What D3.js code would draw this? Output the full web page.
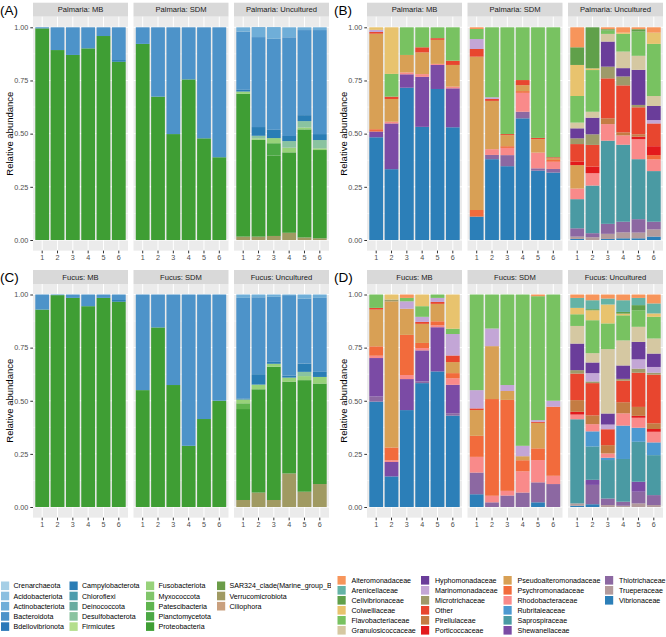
<!DOCTYPE html>
<html>
<head>
<meta charset="utf-8">
<script src="https://cdn.jsdelivr.net/npm/d3@7"></script>
<style>
  body { margin: 0; background: #fff; }
  svg { display: block; font-family: "Liberation Sans", Arial, sans-serif; }
</style>
</head>
<body>
<script>
// ---- legend / stacking order (first = top of stack) ----
const phyla = ["Crenarchaeota", "Acidobacteriota", "Actinobacteriota", "Bacteroidota", "Bdellovibrionota",
               "Campylobacterota", "Chloroflexi", "Deinococcota", "Desulfobacterota", "Firmicutes",
               "Fusobacteriota", "Myxococcota", "Patescibacteria", "Planctomycetota", "Proteobacteria",
               "SAR324_clade(Marine_group_B)", "Verrucomicrobiota", "Ciliophora"];
const phylumColors = ["#a6cfe6", "#8bbfe0", "#6faed8", "#4d93c9", "#2b78b8",
                      "#2a7db5", "#4c9cac", "#6aaca0", "#8ac3a0", "#b4de8c",
                      "#98d27a", "#80c56a", "#5fb44e", "#4ba844", "#3f9e34",
                      "#6b9c48", "#a09a62", "#c9a07e"];

const families = ["Alteromonadaceae", "Arenicellaceae", "Cellvibrionaceae", "Colwelliaceae", "Flavobacteriaceae",
                  "Granulosicoccaceae", "Hyphomonadaceae", "Marinomonadaceae", "Microtrichaceae", "Other",
                  "Pirellulaceae", "Porticoccaceae", "Pseudoalteromonadaceae", "Psychromonadaceae", "Rhodobacteraceae",
                  "Rubritaleaceae", "Saprospiraceae", "Shewanellaceae", "Thiotrichaceae", "Trueperaceae", "Vibrionaceae"];
const familyColors = ["#f7955b", "#64b3a6", "#60a04a", "#e8c36e", "#78c261",
                      "#d5c8a2", "#6a3d9a", "#c3a6d6", "#9e9a6a", "#e8462f",
                      "#c47c43", "#e31a1c", "#d8a055", "#f26b3c", "#f98a8a",
                      "#4c99d1", "#4a9aa3", "#7b4ba5", "#8c68a2", "#b39b9c", "#2c7fb8"];

const samples = ["1", "2", "3", "4", "5", "6"];
const yTicks = [0, 0.25, 0.5, 0.75, 1];

// ---- (A) Palmaria, phylum ----
const palmariaMB_phylum = [
  {Bacteroidota: .005, Proteobacteria: .995},
  {Bacteroidota: .107, Proteobacteria: .893},
  {Bacteroidota: .130, Proteobacteria: .870},
  {Bacteroidota: .099, Proteobacteria: .901},
  {Bacteroidota: .041, Proteobacteria: .959},
  {Bacteroidota: .154, Campylobacterota: .008, Proteobacteria: .838}
];
const palmariaSDM_phylum = [
  {Bacteroidota: .078, Proteobacteria: .922},
  {Bacteroidota: .326, Proteobacteria: .674},
  {Bacteroidota: .502, Proteobacteria: .498},
  {Bacteroidota: .245, Proteobacteria: .755},
  {Bacteroidota: .522, Proteobacteria: .478},
  {Bacteroidota: .611, Proteobacteria: .389}
];
const palmariaUnc_phylum = [
  {Actinobacteriota: .020, Bacteroidota: .274, Campylobacterota: .008, Fusobacteriota: .011, Proteobacteria: .671, Verrucomicrobiota: .016},
  {Actinobacteriota: .047, Bacteroidota: .423, Campylobacterota: .041, Desulfobacterota: .012, Fusobacteriota: .007, Proteobacteria: .455, Verrucomicrobiota: .016},
  {Actinobacteriota: .055, Bacteroidota: .428, Campylobacterota: .039, Fusobacteriota: .024, Planctomycetota: .058, Proteobacteria: .378, Verrucomicrobiota: .019},
  {Actinobacteriota: .047, Bacteroidota: .464, Campylobacterota: .024, Desulfobacterota: .031, Fusobacteriota: .022, Proteobacteria: .378, Verrucomicrobiota: .034},
  {Actinobacteriota: .013, Bacteroidota: .400, Campylobacterota: .028, Desulfobacterota: .030, Fusobacteriota: .009, Proteobacteria: .508, Verrucomicrobiota: .012},
  {Actinobacteriota: .013, Bacteroidota: .489, Campylobacterota: .028, Desulfobacterota: .039, Fusobacteriota: .008, Proteobacteria: .415, Verrucomicrobiota: .008}
];

// ---- (C) Fucus, phylum ----
const fucusMB_phylum = [
  {Bacteroidota: .071, Proteobacteria: .929},
  {Bacteroidota: .003, Proteobacteria: .997},
  {Bacteroidota: .016, Proteobacteria: .984},
  {Bacteroidota: .055, Proteobacteria: .945},
  {Bacteroidota: .016, Proteobacteria: .984},
  {Bacteroidota: .026, Campylobacterota: .008, Proteobacteria: .966}
];
const fucusSDM_phylum = [
  {Bacteroidota: .450, Proteobacteria: .550},
  {Bacteroidota: .155, Proteobacteria: .845},
  {Bacteroidota: .426, Proteobacteria: .574},
  {Bacteroidota: .712, Proteobacteria: .288},
  {Bacteroidota: .586, Proteobacteria: .414},
  {Bacteroidota: .500, Proteobacteria: .500}
];
const fucusUnc_phylum = [
  {Actinobacteriota: .016, Bacteroidota: .473, Campylobacterota: .005, Fusobacteriota: .018, Patescibacteria: .027, Proteobacteria: .428, Verrucomicrobiota: .033},
  {Actinobacteriota: .013, Bacteroidota: .362, Campylobacterota: .049, Fusobacteriota: .022, Proteobacteria: .486, Verrucomicrobiota: .068},
  {Actinobacteriota: .011, Bacteroidota: .306, Campylobacterota: .009, Fusobacteriota: .014, Proteobacteria: .627, Verrucomicrobiota: .033},
  {Actinobacteriota: .003, Bacteroidota: .379, Campylobacterota: .009, Fusobacteriota: .019, Proteobacteria: .432, Verrucomicrobiota: .158},
  {Actinobacteriota: .019, Bacteroidota: .306, Campylobacterota: .039, Desulfobacterota: .020, Fusobacteriota: .019, Proteobacteria: .525, Verrucomicrobiota: .072},
  {Actinobacteriota: .016, Bacteroidota: .348, Campylobacterota: .024, Fusobacteriota: .031, Proteobacteria: .473, Verrucomicrobiota: .108}
];

// ---- (B) Palmaria, family ----
const palmariaMB_family = [
  {Colwelliaceae: .012, Marinomonadaceae: .010, Other: .008, Pseudoalteromonadaceae: .449, Psychromonadaceae: .011, Shewanellaceae: .027, Vibrionaceae: .483},
  {Colwelliaceae: .219, Flavobacteriaceae: .107, Other: .011, Pseudoalteromonadaceae: .107, Rhodobacteraceae: .008, Shewanellaceae: .215, Vibrionaceae: .333},
  {Flavobacteriaceae: .130, Pseudoalteromonadaceae: .082, Rhodobacteraceae: .009, Shewanellaceae: .063, Vibrionaceae: .716},
  {Flavobacteriaceae: .094, Other: .024, Pseudoalteromonadaceae: .102, Rhodobacteraceae: .013, Shewanellaceae: .235, Vibrionaceae: .532},
  {Flavobacteriaceae: .051, Other: .008, Pseudoalteromonadaceae: .113, Rhodobacteraceae: .005, Shewanellaceae: .113, Vibrionaceae: .710},
  {Flavobacteriaceae: .157, Other: .020, Pseudoalteromonadaceae: .102, Rhodobacteraceae: .008, Shewanellaceae: .183, Vibrionaceae: .530}
];
const palmariaSDM_family = [
  {Alteromonadaceae: .008, Flavobacteriaceae: .047, Marinomonadaceae: .047, Other: .036, Pseudoalteromonadaceae: .721, Psychromonadaceae: .031, Vibrionaceae: .110},
  {Flavobacteriaceae: .329, Marinomonadaceae: .008, Other: .009, Pseudoalteromonadaceae: .227, Rhodobacteraceae: .027, Thiotrichaceae: .020, Vibrionaceae: .380},
  {Flavobacteriaceae: .502, Other: .005, Pseudoalteromonadaceae: .052, Psychromonadaceae: .008, Rhodobacteraceae: .034, Thiotrichaceae: .052, Vibrionaceae: .347},
  {Flavobacteriaceae: .248, Other: .024, Pseudoalteromonadaceae: .028, Psychromonadaceae: .008, Rhodobacteraceae: .089, Thiotrichaceae: .031, Vibrionaceae: .572},
  {Flavobacteriaceae: .520, Other: .006, Pseudoalteromonadaceae: .063, Rhodobacteraceae: .074, Thiotrichaceae: .011, Vibrionaceae: .326},
  {Flavobacteriaceae: .611, Other: .005, Pseudoalteromonadaceae: .008, Psychromonadaceae: .008, Rhodobacteraceae: .034, Thiotrichaceae: .017, Vibrionaceae: .317}
];
const palmariaUnc_family = [
  {Alteromonadaceae: .094, Cellvibrionaceae: .083, Colwelliaceae: .146, Flavobacteriaceae: .125, Granulosicoccaceae: .027, Hyphomonadaceae: .047, Microtrichaceae: .027, Other: .083, Porticoccaceae: .016, Pseudoalteromonadaceae: .110, Rhodobacteraceae: .050, Saprospiraceae: .137, Thiotrichaceae: .039, Trueperaceae: .011, Vibrionaceae: .005},
  {Cellvibrionaceae: .193, Colwelliaceae: .008, Flavobacteriaceae: .196, Granulosicoccaceae: .028, Hyphomonadaceae: .078, Microtrichaceae: .050, Other: .102, Porticoccaceae: .031, Rhodobacteraceae: .058, Saprospiraceae: .224, Thiotrichaceae: .019, Trueperaceae: .013},
  {Alteromonadaceae: .009, Cellvibrionaceae: .006, Flavobacteriaceae: .016, Granulosicoccaceae: .036, Hyphomonadaceae: .118, Microtrichaceae: .055, Other: .188, Pirellulaceae: .027, Rhodobacteraceae: .078, Saprospiraceae: .391, Thiotrichaceae: .047, Trueperaceae: .024, Vibrionaceae: .005},
  {Alteromonadaceae: .025, Colwelliaceae: .006, Flavobacteriaceae: .083, Granulosicoccaceae: .078, Hyphomonadaceae: .039, Microtrichaceae: .042, Other: .221, Pirellulaceae: .014, Rhodobacteraceae: .044, Saprospiraceae: .362, Thiotrichaceae: .050, Trueperaceae: .028, Vibrionaceae: .008},
  {Alteromonadaceae: .009, Cellvibrionaceae: .011, Flavobacteriaceae: .114, Granulosicoccaceae: .066, Hyphomonadaceae: .165, Microtrichaceae: .011, Other: .127, Pirellulaceae: .011, Porticoccaceae: .012, Rhodobacteraceae: .094, Saprospiraceae: .282, Thiotrichaceae: .063, Trueperaceae: .027, Vibrionaceae: .008},
  {Alteromonadaceae: .025, Colwelliaceae: .053, Flavobacteriaceae: .245, Granulosicoccaceae: .047, Hyphomonadaceae: .066, Marinomonadaceae: .016, Other: .107, Porticoccaceae: .042, Psychromonadaceae: .020, Rhodobacteraceae: .055, Saprospiraceae: .238, Thiotrichaceae: .036, Trueperaceae: .034, Vibrionaceae: .016}
];

// ---- (D) Fucus, family ----
const fucusMB_family = [
  {Flavobacteriaceae: .063, Other: .008, Pseudoalteromonadaceae: .173, Psychromonadaceae: .044, Rhodobacteraceae: .011, Shewanellaceae: .181, Thiotrichaceae: .024, Vibrionaceae: .496},
  {Colwelliaceae: .024, Microtrichaceae: .008, Pseudoalteromonadaceae: .688, Psychromonadaceae: .060, Rhodobacteraceae: .008, Shewanellaceae: .068, Vibrionaceae: .144},
  {Alteromonadaceae: .016, Flavobacteriaceae: .016, Marinomonadaceae: .035, Pseudoalteromonadaceae: .123, Psychromonadaceae: .189, Rhodobacteraceae: .019, Shewanellaceae: .146, Vibrionaceae: .456},
  {Colwelliaceae: .055, Flavobacteriaceae: .050, Marinomonadaceae: .024, Other: .009, Pseudoalteromonadaceae: .090, Psychromonadaceae: .024, Rhodobacteraceae: .011, Shewanellaceae: .146, Thiotrichaceae: .008, Vibrionaceae: .583},
  {Flavobacteriaceae: .016, Marinomonadaceae: .019, Other: .009, Pseudoalteromonadaceae: .082, Psychromonadaceae: .019, Rhodobacteraceae: .009, Shewanellaceae: .208, Vibrionaceae: .638},
  {Colwelliaceae: .161, Flavobacteriaceae: .025, Marinomonadaceae: .101, Other: .031, Pseudoalteromonadaceae: .052, Psychromonadaceae: .024, Rhodobacteraceae: .031, Shewanellaceae: .134, Thiotrichaceae: .011, Vibrionaceae: .430}
];
const fucusSDM_family = [
  {Flavobacteriaceae: .450, Marinomonadaceae: .086, Other: .008, Pseudoalteromonadaceae: .121, Psychromonadaceae: .099, Rhodobacteraceae: .074, Thiotrichaceae: .102, Vibrionaceae: .060},
  {Flavobacteriaceae: .160, Marinomonadaceae: .083, Pseudoalteromonadaceae: .249, Psychromonadaceae: .455, Rhodobacteraceae: .031, Thiotrichaceae: .022},
  {Flavobacteriaceae: .426, Marinomonadaceae: .028, Pseudoalteromonadaceae: .042, Psychromonadaceae: .428, Rhodobacteraceae: .022, Thiotrichaceae: .054},
  {Flavobacteriaceae: .712, Marinomonadaceae: .049, Pseudoalteromonadaceae: .019, Psychromonadaceae: .052, Rhodobacteraceae: .100, Thiotrichaceae: .068},
  {Alteromonadaceae: .008, Flavobacteriaceae: .583, Marinomonadaceae: .008, Other: .005, Pseudoalteromonadaceae: .120, Psychromonadaceae: .055, Rhodobacteraceae: .105, Thiotrichaceae: .094, Vibrionaceae: .022},
  {Flavobacteriaceae: .500, Marinomonadaceae: .028, Psychromonadaceae: .325, Rhodobacteraceae: .039, Thiotrichaceae: .108}
];
const fucusUnc_family = [
  {Alteromonadaceae: .016, Arenicellaceae: .047, Colwelliaceae: .030, Flavobacteriaceae: .055, Granulosicoccaceae: .083, Hyphomonadaceae: .125, Microtrichaceae: .016, Other: .125, Pirellulaceae: .055, Porticoccaceae: .013, Rhodobacteraceae: .022, Saprospiraceae: .396, Trueperaceae: .011, Vibrionaceae: .006},
  {Alteromonadaceae: .027, Arenicellaceae: .042, Cellvibrionaceae: .005, Colwelliaceae: .047, Flavobacteriaceae: .155, Granulosicoccaceae: .044, Hyphomonadaceae: .050, Marinomonadaceae: .039, Microtrichaceae: .008, Other: .152, Pirellulaceae: .041, Rhodobacteraceae: .034, Rubritaleaceae: .071, Saprospiraceae: .157, Shewanellaceae: .024, Thiotrichaceae: .091, Vibrionaceae: .013},
  {Alteromonadaceae: .019, Arenicellaceae: .028, Colwelliaceae: .089, Flavobacteriaceae: .121, Granulosicoccaceae: .303, Hyphomonadaceae: .052, Marinomonadaceae: .022, Other: .075, Pirellulaceae: .039, Rhodobacteraceae: .020, Rubritaleaceae: .011, Saprospiraceae: .181, Thiotrichaceae: .031, Trueperaceae: .009},
  {Alteromonadaceae: .027, Arenicellaceae: .055, Cellvibrionaceae: .008, Colwelliaceae: .008, Flavobacteriaceae: .118, Granulosicoccaceae: .118, Hyphomonadaceae: .063, Microtrichaceae: .008, Other: .102, Pirellulaceae: .052, Rhodobacteraceae: .058, Rubritaleaceae: .157, Saprospiraceae: .201, Thiotrichaceae: .019, Trueperaceae: .006},
  {Alteromonadaceae: .016, Arenicellaceae: .034, Cellvibrionaceae: .024, Flavobacteriaceae: .078, Granulosicoccaceae: .071, Hyphomonadaceae: .082, Marinomonadaceae: .044, Microtrichaceae: .019, Other: .161, Pirellulaceae: .042, Porticoccaceae: .009, Rhodobacteraceae: .047, Rubritaleaceae: .066, Saprospiraceae: .188, Shewanellaceae: .047, Thiotrichaceae: .055, Trueperaceae: .017},
  {Alteromonadaceae: .042, Arenicellaceae: .047, Colwelliaceae: .016, Flavobacteriaceae: .102, Granulosicoccaceae: .071, Hyphomonadaceae: .063, Marinomonadaceae: .027, Microtrichaceae: .009, Other: .229, Pirellulaceae: .027, Porticoccaceae: .013, Rhodobacteraceae: .050, Rubritaleaceae: .060, Saprospiraceae: .188, Thiotrichaceae: .047, Trueperaceae: .009}
];

// ---- layout ----
const width = 666, height = 637;
const panelW = 95, panelGap = 5.5, stripH = 14;
const colLeft = [33, 367];
const rows = [{top: 16.7, one: 27.3, zero: 240}, {top: 284, one: 294.5, zero: 507}];

const blocks = [
  {tag: "(A)", col: 0, row: 0, keys: phyla, colors: phylumColors,
   facets: [["Palmaria: MB", palmariaMB_phylum], ["Palmaria: SDM", palmariaSDM_phylum], ["Palmaria: Uncultured", palmariaUnc_phylum]]},
  {tag: "(B)", col: 1, row: 0, keys: families, colors: familyColors,
   facets: [["Palmaria: MB", palmariaMB_family], ["Palmaria: SDM", palmariaSDM_family], ["Palmaria: Uncultured", palmariaUnc_family]]},
  {tag: "(C)", col: 0, row: 1, keys: phyla, colors: phylumColors,
   facets: [["Fucus: MB", fucusMB_phylum], ["Fucus: SDM", fucusSDM_phylum], ["Fucus: Uncultured", fucusUnc_phylum]]},
  {tag: "(D)", col: 1, row: 1, keys: families, colors: familyColors,
   facets: [["Fucus: MB", fucusMB_family], ["Fucus: SDM", fucusSDM_family], ["Fucus: Uncultured", fucusUnc_family]]}
];

const svg = d3.select("body").append("svg")
    .attr("width", width)
    .attr("height", height);

blocks.forEach(function(b) {
  const r = rows[b.row];
  const exp = (r.zero - r.one) * 0.05;
  const bottom = r.zero + exp;
  const y = d3.scaleLinear().domain([0, 1]).range([r.zero, r.one]);
  const color = d3.scaleOrdinal().domain(b.keys).range(b.colors);
  const stack = d3.stack()
      .keys(b.keys.slice().reverse())
      .value(function(d, k) { return d[k] || 0; });
  const g = svg.append("g");

  // tag like (A)
  g.append("text")
      .attr("x", colLeft[b.col] - 33)
      .attr("y", r.top - stripH + 12)
      .attr("font-size", 13.5)
      .attr("fill", "#000")
      .text(b.tag);

  // y title
  g.append("text")
      .attr("transform", "translate(" + (colLeft[b.col] - 20) + "," + ((r.one + r.zero) / 2) + ") rotate(-90)")
      .attr("text-anchor", "middle")
      .attr("font-size", 9.5)
      .attr("fill", "#000")
      .text("Relative abundance");

  b.facets.forEach(function(f, i) {
    const x0 = colLeft[b.col] + i * (panelW + panelGap);
    const x = d3.scaleBand().domain(samples).range([x0, x0 + panelW])
        .paddingInner(0.1).paddingOuter(0.15);
    const p = g.append("g");

    // strip
    p.append("rect")
        .attr("x", x0).attr("y", r.top - stripH)
        .attr("width", panelW).attr("height", stripH)
        .attr("fill", "#d9d9d9");
    p.append("text")
        .attr("x", x0 + panelW / 2).attr("y", r.top - stripH / 2 + 2.7)
        .attr("text-anchor", "middle")
        .attr("font-size", 7.6)
        .attr("fill", "#1a1a1a")
        .text(f[0]);

    // panel background + grid
    p.append("rect")
        .attr("x", x0).attr("y", r.top)
        .attr("width", panelW).attr("height", bottom - r.top)
        .attr("fill", "#ebebeb");
    p.selectAll(".minor").data([0.125, 0.375, 0.625, 0.875]).join("line")
        .attr("x1", x0).attr("x2", x0 + panelW)
        .attr("y1", d => y(d)).attr("y2", d => y(d))
        .attr("stroke", "#fff").attr("stroke-width", 0.5);
    p.selectAll(".major").data(yTicks).join("line")
        .attr("x1", x0).attr("x2", x0 + panelW)
        .attr("y1", d => y(d)).attr("y2", d => y(d))
        .attr("stroke", "#fff").attr("stroke-width", 1);
    p.selectAll(".vgrid").data(samples).join("line")
        .attr("x1", d => x(d) + x.bandwidth() / 2).attr("x2", d => x(d) + x.bandwidth() / 2)
        .attr("y1", r.top).attr("y2", bottom)
        .attr("stroke", "#fff").attr("stroke-width", 1);

    // stacked bars
    const series = stack(f[1]);
    p.selectAll(".layer").data(series).join("g")
        .attr("fill", d => color(d.key))
      .selectAll("rect")
      .data(d => d.filter(s => s[1] - s[0] > 0))
      .join("rect")
        .attr("x", (s) => x(samples[f[1].indexOf(s.data)]))
        .attr("width", x.bandwidth())
        .attr("y", s => y(s[1]))
        .attr("height", s => y(s[0]) - y(s[1]));

    // x axis
    const xa = p.append("g").attr("transform", "translate(0," + bottom + ")")
        .call(d3.axisBottom(x).tickSize(2.7).tickPadding(2));
    xa.select(".domain").remove();
    xa.selectAll("line").attr("stroke", "#333");
    xa.selectAll("text").attr("font-size", 7.2).attr("fill", "#4d4d4d").attr("font-family", null);

    // y axis on first facet only
    if (i === 0) {
      const ya = p.append("g").attr("transform", "translate(" + x0 + ",0)")
          .call(d3.axisLeft(y).tickValues(yTicks).tickFormat(d3.format(".2f")).tickSize(2.7).tickPadding(2));
      ya.select(".domain").remove();
      ya.selectAll("line").attr("stroke", "#333");
      ya.selectAll("text").attr("font-size", 7.2).attr("fill", "#4d4d4d").attr("font-family", null);
    }
  });
});

// ---- legends ----
svg.append("clipPath").attr("id", "legclip")
  .append("rect").attr("x", 0).attr("y", 570).attr("width", 331).attr("height", 67);

function legend(keys, colors, perCol, keyX, top, step, gap, clip) {
  const lg = svg.append("g");
  if (clip) lg.attr("clip-path", "url(#legclip)");
  const item = lg.selectAll("g").data(keys).join("g")
      .attr("transform", (d, i) => "translate(" + keyX[Math.floor(i / perCol)] + "," + (top + (i % perCol) * step) + ")");
  item.append("rect")
      .attr("x", 0).attr("y", -4.3)
      .attr("width", 8.2).attr("height", 8.6)
      .attr("fill", (d, i) => colors[i]);
  item.append("text")
      .attr("x", gap).attr("y", 2.6)
      .attr("font-size", 7.1)
      .attr("fill", "#000")
      .text(d => d);
}

legend(phyla, phylumColors, 5, [1, 69.5, 146, 217], 585.8, 10.2, 12.5, true);
legend(families, familyColors, 6, [337.5, 421, 503.5, 605], 580.3, 10, 14, false);
</script>
</body>
